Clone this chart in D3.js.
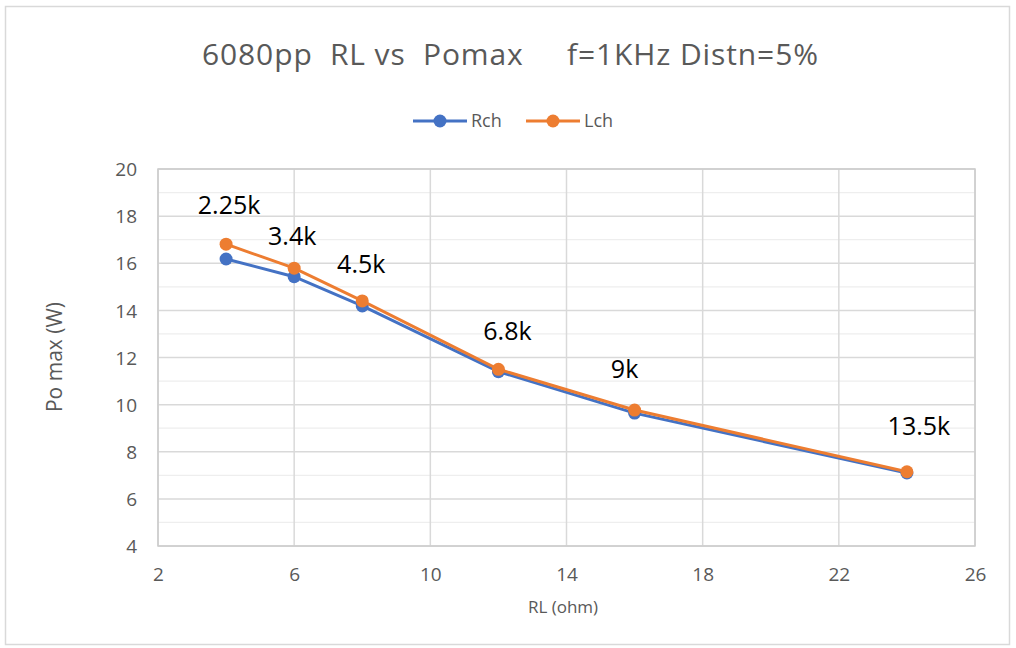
<!DOCTYPE html>
<html>
<head>
<meta charset="utf-8">
<script src="https://cdn.jsdelivr.net/npm/d3@7"></script>
<style>
  body { margin: 0; background: #fff; }
  text { font-family: "Open Sans", "Noto Sans", sans-serif; }
</style>
</head>
<body>
<svg id="chart" width="1016" height="648"></svg>
<script>
// data
const loadOhms = [4, 6, 8, 12, 16, 24];
const rchPower = [16.18, 15.43, 14.19, 11.4, 9.64, 7.1];
const lchPower = [16.81, 15.79, 14.4, 11.5, 9.77, 7.15];
const plateLoads = ["2.25k", "3.4k", "4.5k", "6.8k", "9k", "13.5k"];
const xTicks = [2, 6, 10, 14, 18, 22, 26];
const yTicks = [4, 6, 8, 10, 12, 14, 16, 18, 20];

const svg = d3.select("#chart");
const plot = { left: 158, right: 975, top: 169, bottom: 546 };

// outer chart border
svg.append("rect")
  .attr("x", 5.5).attr("y", 6.5).attr("width", 1004).attr("height", 638)
  .attr("fill", "#fff").attr("stroke", "#d9d9d9").attr("stroke-width", 1.5);

const x = d3.scaleLinear().domain([2, 26]).range([plot.left, plot.right]);
const y = d3.scaleLinear().domain([4, 20]).range([plot.bottom, plot.top]);

// minor gridlines
svg.append("g").selectAll("line")
  .data(d3.range(5, 20, 2)).enter().append("line")
  .attr("x1", plot.left).attr("x2", plot.right)
  .attr("y1", d => y(d)).attr("y2", d => y(d))
  .attr("stroke", "#eeeeee").attr("stroke-width", 1.2);

// major gridlines
svg.append("g").selectAll("line")
  .data(yTicks).enter().append("line")
  .attr("x1", plot.left).attr("x2", plot.right)
  .attr("y1", d => y(d)).attr("y2", d => y(d))
  .attr("stroke", "#d9d9d9").attr("stroke-width", 1.5);
svg.append("g").selectAll("line")
  .data(xTicks).enter().append("line")
  .attr("x1", d => x(d)).attr("x2", d => x(d))
  .attr("y1", plot.top).attr("y2", plot.bottom)
  .attr("stroke", "#d9d9d9").attr("stroke-width", 1.5);
svg.append("rect")
  .attr("x", plot.left).attr("y", plot.top)
  .attr("width", plot.right - plot.left).attr("height", plot.bottom - plot.top)
  .attr("fill", "none").attr("stroke", "#cccccc").attr("stroke-width", 1.5);

// axes (labels only)
const xAxis = svg.append("g")
  .attr("transform", `translate(0,${plot.bottom})`)
  .call(d3.axisBottom(x).tickValues(xTicks).tickSize(0).tickPadding(22));
const yAxis = svg.append("g")
  .attr("transform", `translate(${plot.left},0)`)
  .call(d3.axisLeft(y).tickValues(yTicks).tickSize(0).tickPadding(21));
[xAxis, yAxis].forEach(a => {
  a.select(".domain").remove();
  a.selectAll("text").attr("fill", "#595959").style("font-size", "19px")
    .style("font-family", "'Open Sans', sans-serif");
});
yAxis.selectAll("text").attr("dy", "0.35em");

// axis titles
svg.append("text")
  .attr("x", 563).attr("y", 613).attr("text-anchor", "middle")
  .attr("fill", "#595959").style("font-size", "17px")
  .text("RL (ohm)");
svg.append("text")
  .attr("transform", "translate(62,357) rotate(-90)")
  .attr("text-anchor", "middle")
  .attr("fill", "#595959").style("font-size", "21px")
  .text("Po max (W)");

// title
svg.append("text")
  .attr("x", 202).attr("y", 65)
  .attr("fill", "#595959").style("font-size", "30px")
  .attr("textLength", 616).attr("lengthAdjust", "spacing")
  .attr("xml:space", "preserve")
  .text("6080pp  RL vs  Pomax     f=1KHz Distn=5%");

// series
const series = [
  { name: "Rch", values: rchPower, color: "#4472C4" },
  { name: "Lch", values: lchPower, color: "#ED7D31" }
];
const line = d3.line().x(d => x(d[0])).y(d => y(d[1]));

series.forEach(s => {
  const pts = loadOhms.map((v, i) => [v, s.values[i]]);
  svg.append("path")
    .datum(pts)
    .attr("d", line)
    .attr("fill", "none").attr("stroke", s.color).attr("stroke-width", 3);
  svg.append("g").selectAll("circle")
    .data(pts).enter().append("circle")
    .attr("cx", d => x(d[0])).attr("cy", d => y(d[1])).attr("r", 6.5)
    .attr("fill", s.color);
});

// plate load labels, offset from the Lch point
const labelOffsets = [[3, -30], [-2, -23], [-1, -28], [9, -29], [-10, -32], [12, -37]];
svg.append("g").selectAll("text")
  .data(plateLoads).enter().append("text")
  .attr("x", (d, i) => x(loadOhms[i]) + labelOffsets[i][0])
  .attr("y", (d, i) => y(lchPower[i]) + labelOffsets[i][1])
  .attr("text-anchor", "middle")
  .attr("fill", "#000").style("font-size", "25px")
  .text(d => d);

// legend
const legend = svg.append("g").attr("transform", "translate(413,121)");
series.forEach((s, i) => {
  const g = legend.append("g").attr("transform", `translate(${i * 113},0)`);
  g.append("line").attr("x1", 0).attr("x2", 54).attr("y1", 0).attr("y2", 0)
    .attr("stroke", s.color).attr("stroke-width", 3);
  g.append("circle").attr("cx", 27).attr("cy", 0).attr("r", 6.5).attr("fill", s.color);
  g.append("text").attr("x", 58).attr("y", 0).attr("dy", "0.35em")
    .attr("fill", "#595959").style("font-size", "18px")
    .text(s.name);
});
</script>
</body>
</html>
